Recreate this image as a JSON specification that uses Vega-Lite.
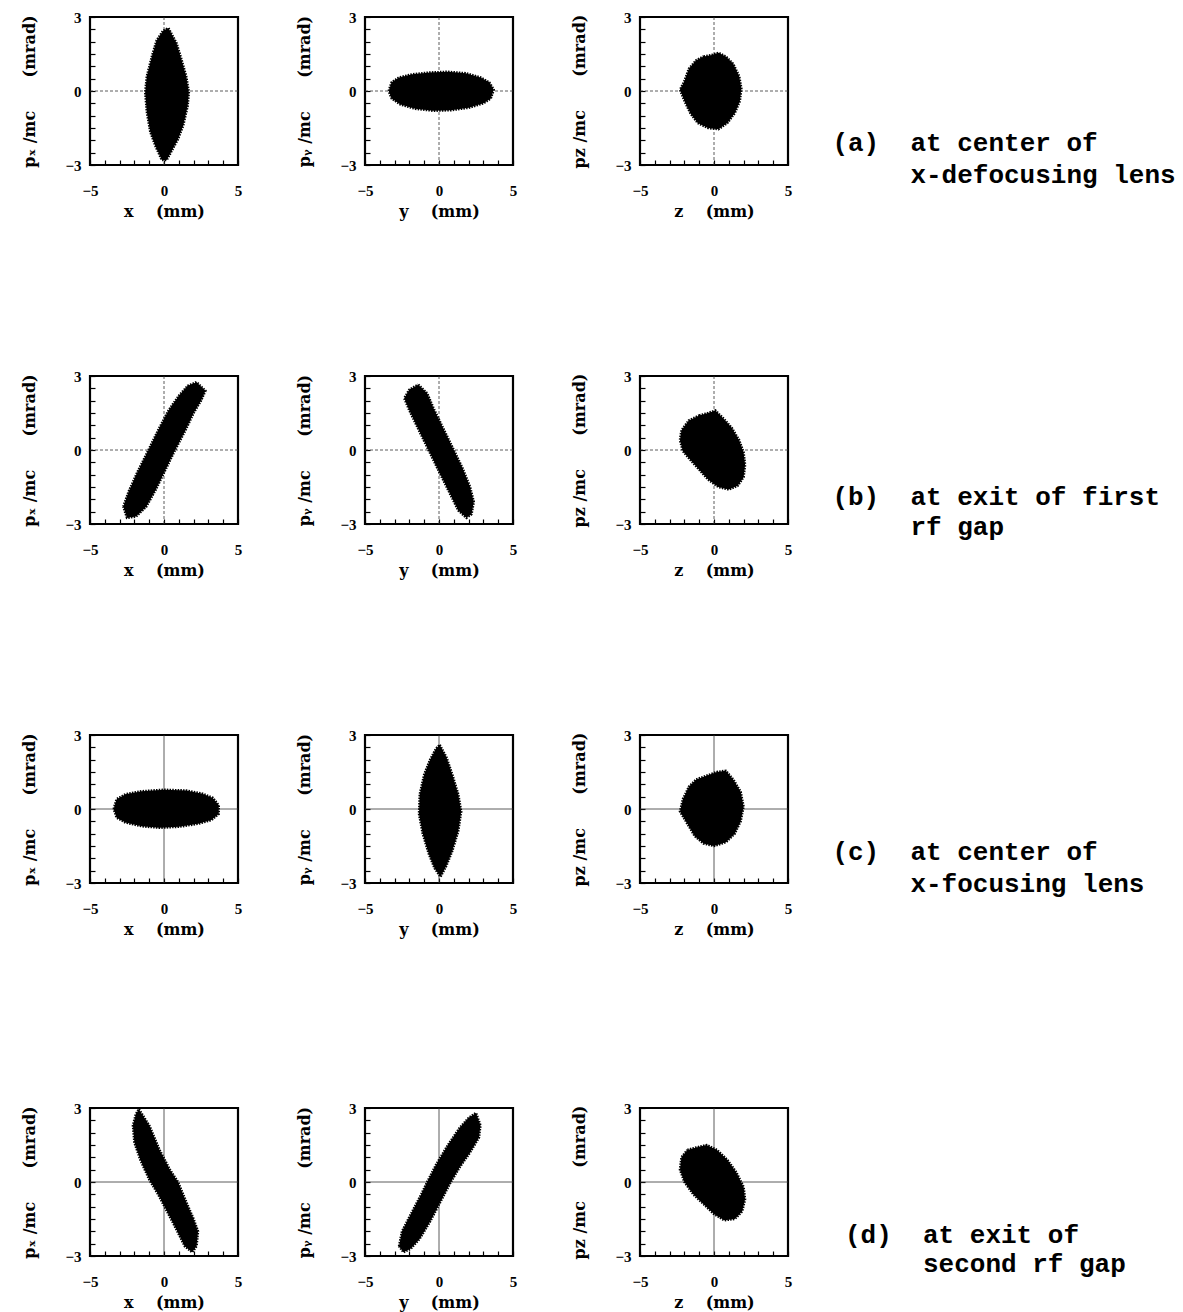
{
  "$schema": "https://vega.github.io/schema/vega-lite/v6.json",
  "background": "white",
  "padding": {"left": 20, "top": 8, "right": 5, "bottom": 0},
  "config": {
    "view": {"stroke": "black", "strokeWidth": 2.2},
    "axis": {
      "domain": false, "grid": false, "ticks": true,
      "tickSize": -5, "tickColor": "black", "tickWidth": 1.2,
      "labelFont": "Liberation Serif", "labelFontSize": 15, "labelFontWeight": "bold", "labelColor": "black",
      "titleFont": "DejaVu Serif", "titleFontSize": 16, "titleFontWeight": "bold", "titleColor": "black",
      "labelOverlap": false, "labelFlush": false, "labelBound": false
    },
    "axisX": {"labelPadding": 23, "titlePadding": 5},
    "axisY": {"labelPadding": 14, "titlePadding": 27}
  },
  "datasets": {
    "blobs": [
      {"p":"a1","i":0,"u":0.3,"v":2.55},{"p":"a1","i":1,"u":0.84,"v":1.95},{"p":"a1","i":2,"u":1.18,"v":1.28},{"p":"a1","i":3,"u":1.5,"v":0.6},{"p":"a1","i":4,"u":1.68,"v":-0.05},{"p":"a1","i":5,"u":1.6,"v":-0.6},{"p":"a1","i":6,"u":1.3,"v":-1.4},{"p":"a1","i":7,"u":0.95,"v":-1.95},{"p":"a1","i":8,"u":0.5,"v":-2.45},{"p":"a1","i":9,"u":0.18,"v":-2.8},{"p":"a1","i":10,"u":-0.15,"v":-2.8},{"p":"a1","i":11,"u":-0.6,"v":-2.2},{"p":"a1","i":12,"u":-0.93,"v":-1.65},{"p":"a1","i":13,"u":-1.16,"v":-0.85},{"p":"a1","i":14,"u":-1.27,"v":-0.05},{"p":"a1","i":15,"u":-1.16,"v":0.6},{"p":"a1","i":16,"u":-0.82,"v":1.4},{"p":"a1","i":17,"u":-0.5,"v":2.05},{"p":"a1","i":18,"u":-0.05,"v":2.45},{"p":"a1","i":19,"u":0.3,"v":2.55},
      {"p":"a2","i":0,"u":-3.4,"v":0},{"p":"a2","i":1,"u":-3.2,"v":0.35},{"p":"a2","i":2,"u":-2.7,"v":0.55},{"p":"a2","i":3,"u":-1.8,"v":0.68},{"p":"a2","i":4,"u":-0.6,"v":0.75},{"p":"a2","i":5,"u":0.6,"v":0.78},{"p":"a2","i":6,"u":1.8,"v":0.72},{"p":"a2","i":7,"u":2.8,"v":0.55},{"p":"a2","i":8,"u":3.4,"v":0.35},{"p":"a2","i":9,"u":3.7,"v":0.05},{"p":"a2","i":10,"u":3.5,"v":-0.3},{"p":"a2","i":11,"u":3.0,"v":-0.5},{"p":"a2","i":12,"u":2.0,"v":-0.68},{"p":"a2","i":13,"u":0.8,"v":-0.78},{"p":"a2","i":14,"u":-0.4,"v":-0.8},{"p":"a2","i":15,"u":-1.6,"v":-0.72},{"p":"a2","i":16,"u":-2.6,"v":-0.55},{"p":"a2","i":17,"u":-3.2,"v":-0.3},{"p":"a2","i":18,"u":-3.4,"v":0},
      {"p":"a3","i":0,"u":-0.7,"v":1.4},{"p":"a3","i":1,"u":-0.2,"v":1.45},{"p":"a3","i":2,"u":0.3,"v":1.55},{"p":"a3","i":3,"u":0.8,"v":1.4},{"p":"a3","i":4,"u":1.3,"v":1.1},{"p":"a3","i":5,"u":1.7,"v":0.6},{"p":"a3","i":6,"u":1.85,"v":0.1},{"p":"a3","i":7,"u":1.75,"v":-0.4},{"p":"a3","i":8,"u":1.4,"v":-0.9},{"p":"a3","i":9,"u":0.9,"v":-1.3},{"p":"a3","i":10,"u":0.3,"v":-1.55},{"p":"a3","i":11,"u":-0.4,"v":-1.5},{"p":"a3","i":12,"u":-1.1,"v":-1.3},{"p":"a3","i":13,"u":-1.6,"v":-0.9},{"p":"a3","i":14,"u":-2.0,"v":-0.4},{"p":"a3","i":15,"u":-2.3,"v":0.05},{"p":"a3","i":16,"u":-2.0,"v":0.4},{"p":"a3","i":17,"u":-1.7,"v":0.9},{"p":"a3","i":18,"u":-1.2,"v":1.25},{"p":"a3","i":19,"u":-0.7,"v":1.4},
      {"p":"b1","i":0,"u":-2.75,"v":-2.3},{"p":"b1","i":1,"u":-2.4,"v":-1.7},{"p":"b1","i":2,"u":-1.8,"v":-0.9},{"p":"b1","i":3,"u":-1.05,"v":0},{"p":"b1","i":4,"u":-0.4,"v":0.8},{"p":"b1","i":5,"u":0.3,"v":1.6},{"p":"b1","i":6,"u":1.0,"v":2.2},{"p":"b1","i":7,"u":1.6,"v":2.6},{"p":"b1","i":8,"u":2.2,"v":2.75},{"p":"b1","i":9,"u":2.8,"v":2.4},{"p":"b1","i":10,"u":2.5,"v":2.0},{"p":"b1","i":11,"u":2.0,"v":1.5},{"p":"b1","i":12,"u":1.45,"v":0.8},{"p":"b1","i":13,"u":0.75,"v":0},{"p":"b1","i":14,"u":0.1,"v":-0.8},{"p":"b1","i":15,"u":-0.55,"v":-1.6},{"p":"b1","i":16,"u":-1.2,"v":-2.3},{"p":"b1","i":17,"u":-1.9,"v":-2.7},{"p":"b1","i":18,"u":-2.5,"v":-2.75},{"p":"b1","i":19,"u":-2.75,"v":-2.3},
      {"p":"b2","i":0,"u":-1.4,"v":2.65},{"p":"b2","i":1,"u":-0.8,"v":2.3},{"p":"b2","i":2,"u":-0.3,"v":1.6},{"p":"b2","i":3,"u":0.35,"v":0.8},{"p":"b2","i":4,"u":1.0,"v":0},{"p":"b2","i":5,"u":1.6,"v":-0.75},{"p":"b2","i":6,"u":2.1,"v":-1.5},{"p":"b2","i":7,"u":2.35,"v":-2.1},{"p":"b2","i":8,"u":2.2,"v":-2.6},{"p":"b2","i":9,"u":1.85,"v":-2.75},{"p":"b2","i":10,"u":1.3,"v":-2.45},{"p":"b2","i":11,"u":0.6,"v":-1.6},{"p":"b2","i":12,"u":-0.1,"v":-0.75},{"p":"b2","i":13,"u":-0.75,"v":0.05},{"p":"b2","i":14,"u":-1.4,"v":0.85},{"p":"b2","i":15,"u":-2.0,"v":1.6},{"p":"b2","i":16,"u":-2.35,"v":2.1},{"p":"b2","i":17,"u":-2.0,"v":2.45},{"p":"b2","i":18,"u":-1.4,"v":2.65},
      {"p":"b3","i":0,"u":-1.0,"v":1.4},{"p":"b3","i":1,"u":-0.4,"v":1.5},{"p":"b3","i":2,"u":0.1,"v":1.6},{"p":"b3","i":3,"u":0.6,"v":1.3},{"p":"b3","i":4,"u":1.2,"v":0.9},{"p":"b3","i":5,"u":1.7,"v":0.4},{"p":"b3","i":6,"u":2.0,"v":-0.1},{"p":"b3","i":7,"u":2.1,"v":-0.6},{"p":"b3","i":8,"u":2.0,"v":-1.1},{"p":"b3","i":9,"u":1.6,"v":-1.45},{"p":"b3","i":10,"u":1.0,"v":-1.6},{"p":"b3","i":11,"u":0.3,"v":-1.5},{"p":"b3","i":12,"u":-0.4,"v":-1.2},{"p":"b3","i":13,"u":-1.0,"v":-0.8},{"p":"b3","i":14,"u":-1.6,"v":-0.4},{"p":"b3","i":15,"u":-2.1,"v":-0.05},{"p":"b3","i":16,"u":-2.3,"v":0.4},{"p":"b3","i":17,"u":-2.2,"v":0.8},{"p":"b3","i":18,"u":-1.7,"v":1.2},{"p":"b3","i":19,"u":-1.0,"v":1.4},
      {"p":"c1","i":0,"u":-3.4,"v":0},{"p":"c1","i":1,"u":-3.2,"v":0.4},{"p":"c1","i":2,"u":-2.6,"v":0.6},{"p":"c1","i":3,"u":-1.5,"v":0.72},{"p":"c1","i":4,"u":0,"v":0.78},{"p":"c1","i":5,"u":1.5,"v":0.75},{"p":"c1","i":6,"u":2.6,"v":0.62},{"p":"c1","i":7,"u":3.3,"v":0.45},{"p":"c1","i":8,"u":3.7,"v":0.15},{"p":"c1","i":9,"u":3.7,"v":-0.2},{"p":"c1","i":10,"u":3.2,"v":-0.45},{"p":"c1","i":11,"u":2.3,"v":-0.6},{"p":"c1","i":12,"u":1.0,"v":-0.72},{"p":"c1","i":13,"u":-0.3,"v":-0.76},{"p":"c1","i":14,"u":-1.5,"v":-0.7},{"p":"c1","i":15,"u":-2.6,"v":-0.55},{"p":"c1","i":16,"u":-3.2,"v":-0.35},{"p":"c1","i":17,"u":-3.4,"v":0},
      {"p":"c2","i":0,"u":0.05,"v":2.6},{"p":"c2","i":1,"u":0.5,"v":2.1},{"p":"c2","i":2,"u":0.9,"v":1.4},{"p":"c2","i":3,"u":1.3,"v":0.6},{"p":"c2","i":4,"u":1.5,"v":-0.1},{"p":"c2","i":5,"u":1.3,"v":-0.9},{"p":"c2","i":6,"u":0.9,"v":-1.7},{"p":"c2","i":7,"u":0.5,"v":-2.3},{"p":"c2","i":8,"u":0.1,"v":-2.75},{"p":"c2","i":9,"u":-0.3,"v":-2.4},{"p":"c2","i":10,"u":-0.7,"v":-1.8},{"p":"c2","i":11,"u":-1.1,"v":-1.0},{"p":"c2","i":12,"u":-1.35,"v":-0.2},{"p":"c2","i":13,"u":-1.3,"v":0.6},{"p":"c2","i":14,"u":-1.0,"v":1.4},{"p":"c2","i":15,"u":-0.6,"v":2.0},{"p":"c2","i":16,"u":-0.2,"v":2.45},{"p":"c2","i":17,"u":0.05,"v":2.6},
      {"p":"c3","i":0,"u":-1.2,"v":1.2},{"p":"c3","i":1,"u":-0.5,"v":1.35},{"p":"c3","i":2,"u":0.2,"v":1.5},{"p":"c3","i":3,"u":0.8,"v":1.55},{"p":"c3","i":4,"u":1.3,"v":1.2},{"p":"c3","i":5,"u":1.8,"v":0.7},{"p":"c3","i":6,"u":2.0,"v":0.1},{"p":"c3","i":7,"u":1.8,"v":-0.5},{"p":"c3","i":8,"u":1.4,"v":-1.0},{"p":"c3","i":9,"u":0.8,"v":-1.35},{"p":"c3","i":10,"u":0,"v":-1.5},{"p":"c3","i":11,"u":-0.7,"v":-1.4},{"p":"c3","i":12,"u":-1.3,"v":-1.1},{"p":"c3","i":13,"u":-1.8,"v":-0.6},{"p":"c3","i":14,"u":-2.3,"v":-0.1},{"p":"c3","i":15,"u":-2.1,"v":0.4},{"p":"c3","i":16,"u":-1.7,"v":0.9},{"p":"c3","i":17,"u":-1.2,"v":1.2},
      {"p":"d1","i":0,"u":-1.7,"v":2.95},{"p":"d1","i":1,"u":-1.0,"v":2.3},{"p":"d1","i":2,"u":-0.3,"v":1.3},{"p":"d1","i":3,"u":0.4,"v":0.5},{"p":"d1","i":4,"u":0.95,"v":0},{"p":"d1","i":5,"u":1.5,"v":-0.8},{"p":"d1","i":6,"u":2.0,"v":-1.5},{"p":"d1","i":7,"u":2.3,"v":-2.0},{"p":"d1","i":8,"u":2.2,"v":-2.6},{"p":"d1","i":9,"u":1.9,"v":-2.85},{"p":"d1","i":10,"u":1.4,"v":-2.6},{"p":"d1","i":11,"u":0.9,"v":-2.0},{"p":"d1","i":12,"u":0.3,"v":-1.3},{"p":"d1","i":13,"u":-0.4,"v":-0.5},{"p":"d1","i":14,"u":-1.0,"v":0.1},{"p":"d1","i":15,"u":-1.6,"v":0.9},{"p":"d1","i":16,"u":-2.0,"v":1.6},{"p":"d1","i":17,"u":-2.1,"v":2.3},{"p":"d1","i":18,"u":-1.9,"v":2.75},{"p":"d1","i":19,"u":-1.7,"v":2.95},
      {"p":"d2","i":0,"u":-2.7,"v":-2.6},{"p":"d2","i":1,"u":-2.5,"v":-2.0},{"p":"d2","i":2,"u":-1.9,"v":-1.3},{"p":"d2","i":3,"u":-1.2,"v":-0.5},{"p":"d2","i":4,"u":-0.8,"v":0},{"p":"d2","i":5,"u":-0.2,"v":0.7},{"p":"d2","i":6,"u":0.6,"v":1.5},{"p":"d2","i":7,"u":1.4,"v":2.2},{"p":"d2","i":8,"u":2.0,"v":2.6},{"p":"d2","i":9,"u":2.5,"v":2.8},{"p":"d2","i":10,"u":2.8,"v":2.3},{"p":"d2","i":11,"u":2.7,"v":1.8},{"p":"d2","i":12,"u":2.1,"v":1.2},{"p":"d2","i":13,"u":1.4,"v":0.6},{"p":"d2","i":14,"u":0.8,"v":0},{"p":"d2","i":15,"u":0.1,"v":-0.8},{"p":"d2","i":16,"u":-0.6,"v":-1.6},{"p":"d2","i":17,"u":-1.3,"v":-2.3},{"p":"d2","i":18,"u":-1.9,"v":-2.7},{"p":"d2","i":19,"u":-2.4,"v":-2.85},{"p":"d2","i":20,"u":-2.7,"v":-2.6},
      {"p":"d3","i":0,"u":-1.8,"v":1.3},{"p":"d3","i":1,"u":-1.2,"v":1.4},{"p":"d3","i":2,"u":-0.5,"v":1.5},{"p":"d3","i":3,"u":0.2,"v":1.3},{"p":"d3","i":4,"u":0.9,"v":0.9},{"p":"d3","i":5,"u":1.5,"v":0.4},{"p":"d3","i":6,"u":2.0,"v":-0.2},{"p":"d3","i":7,"u":2.1,"v":-0.7},{"p":"d3","i":8,"u":1.9,"v":-1.2},{"p":"d3","i":9,"u":1.4,"v":-1.5},{"p":"d3","i":10,"u":0.7,"v":-1.55},{"p":"d3","i":11,"u":0,"v":-1.3},{"p":"d3","i":12,"u":-0.7,"v":-0.9},{"p":"d3","i":13,"u":-1.4,"v":-0.5},{"p":"d3","i":14,"u":-2.0,"v":0},{"p":"d3","i":15,"u":-2.3,"v":0.5},{"p":"d3","i":16,"u":-2.2,"v":1.0},{"p":"d3","i":17,"u":-1.8,"v":1.3}
    ]
  },
  "spacing": 160,
  "vconcat": [
    {
      "spacing": 146,
      "vconcat": [
        {
          "spacing": 52,
          "hconcat": [
            {"width": 148, "height": 148, "layer": [
              {"data": {"values": [{}]}, "mark": {"type": "rule", "color": "#333", "strokeWidth": 0.8, "strokeDash": [3, 2]}, "encoding": {"x": {"datum": 0, "type": "quantitative", "axis": {"title": "x\u00a0\u00a0\u00a0\u00a0(mm)", "values": [-5,-4,-3,-2,-1,0,1,2,3,4,5], "labelExpr": "datum.value % 5 === 0 ? datum.label : ''"}}}},
              {"data": {"values": [{}]}, "mark": {"type": "rule", "color": "#333", "strokeWidth": 0.8, "strokeDash": [3, 2]}, "encoding": {"y": {"datum": 0, "type": "quantitative", "axis": {"title": "pₓ /mc\u00a0\u00a0\u00a0\u00a0\u00a0\u00a0(mrad)", "values": [-3,-2.5,-2,-1.5,-1,-0.5,0,0.5,1,1.5,2,2.5,3], "labelExpr": "datum.value % 3 === 0 ? format(datum.value, 'd') : ''"}}}},
              {"data": {"name": "blobs"}, "transform": [{"filter": "datum.p === 'a1'"}],
               "mark": {"type": "line", "fill": "black", "stroke": "black", "strokeWidth": 2.5, "strokeDash": [1.5, 1.2]},
               "encoding": {
                 "x": {"field": "u", "type": "quantitative", "scale": {"domain": [-5, 5], "nice": false, "zero": false}, "axis": {"title": "x\u00a0\u00a0\u00a0\u00a0(mm)", "values": [-5,-4,-3,-2,-1,0,1,2,3,4,5], "labelExpr": "datum.value % 5 === 0 ? datum.label : ''"}},
                 "y": {"field": "v", "type": "quantitative", "scale": {"domain": [-3, 3], "nice": false, "zero": false}, "axis": {"title": "pₓ /mc\u00a0\u00a0\u00a0\u00a0\u00a0\u00a0(mrad)", "values": [-3,-2.5,-2,-1.5,-1,-0.5,0,0.5,1,1.5,2,2.5,3], "labelExpr": "datum.value % 3 === 0 ? format(datum.value, 'd') : ''"}},
                 "order": {"field": "i"}}}
            ]},
            {"width": 148, "height": 148, "layer": [
              {"data": {"values": [{}]}, "mark": {"type": "rule", "color": "#333", "strokeWidth": 0.8, "strokeDash": [3, 2]}, "encoding": {"x": {"datum": 0, "type": "quantitative", "axis": {"title": "y\u00a0\u00a0\u00a0\u00a0(mm)", "values": [-5,-4,-3,-2,-1,0,1,2,3,4,5], "labelExpr": "datum.value % 5 === 0 ? datum.label : ''"}}}},
              {"data": {"values": [{}]}, "mark": {"type": "rule", "color": "#333", "strokeWidth": 0.8, "strokeDash": [3, 2]}, "encoding": {"y": {"datum": 0, "type": "quantitative", "axis": {"title": "pᵧ /mc\u00a0\u00a0\u00a0\u00a0\u00a0\u00a0(mrad)", "values": [-3,-2.5,-2,-1.5,-1,-0.5,0,0.5,1,1.5,2,2.5,3], "labelExpr": "datum.value % 3 === 0 ? format(datum.value, 'd') : ''"}}}},
              {"data": {"name": "blobs"}, "transform": [{"filter": "datum.p === 'a2'"}],
               "mark": {"type": "line", "fill": "black", "stroke": "black", "strokeWidth": 2.5, "strokeDash": [1.5, 1.2]},
               "encoding": {
                 "x": {"field": "u", "type": "quantitative", "scale": {"domain": [-5, 5], "nice": false, "zero": false}, "axis": {"title": "y\u00a0\u00a0\u00a0\u00a0(mm)", "values": [-5,-4,-3,-2,-1,0,1,2,3,4,5], "labelExpr": "datum.value % 5 === 0 ? datum.label : ''"}},
                 "y": {"field": "v", "type": "quantitative", "scale": {"domain": [-3, 3], "nice": false, "zero": false}, "axis": {"title": "pᵧ /mc\u00a0\u00a0\u00a0\u00a0\u00a0\u00a0(mrad)", "values": [-3,-2.5,-2,-1.5,-1,-0.5,0,0.5,1,1.5,2,2.5,3], "labelExpr": "datum.value % 3 === 0 ? format(datum.value, 'd') : ''"}},
                 "order": {"field": "i"}}}
            ]},
            {"width": 148, "height": 148, "layer": [
              {"data": {"values": [{}]}, "mark": {"type": "rule", "color": "#333", "strokeWidth": 0.8, "strokeDash": [3, 2]}, "encoding": {"x": {"datum": 0, "type": "quantitative", "axis": {"title": "z\u00a0\u00a0\u00a0\u00a0(mm)", "values": [-5,-4,-3,-2,-1,0,1,2,3,4,5], "labelExpr": "datum.value % 5 === 0 ? datum.label : ''"}}}},
              {"data": {"values": [{}]}, "mark": {"type": "rule", "color": "#333", "strokeWidth": 0.8, "strokeDash": [3, 2]}, "encoding": {"y": {"datum": 0, "type": "quantitative", "axis": {"title": "pz /mc\u00a0\u00a0\u00a0\u00a0\u00a0\u00a0(mrad)", "values": [-3,-2.5,-2,-1.5,-1,-0.5,0,0.5,1,1.5,2,2.5,3], "labelExpr": "datum.value % 3 === 0 ? format(datum.value, 'd') : ''"}}}},
              {"data": {"name": "blobs"}, "transform": [{"filter": "datum.p === 'a3'"}],
               "mark": {"type": "line", "fill": "black", "stroke": "black", "strokeWidth": 2.5, "strokeDash": [1.5, 1.2]},
               "encoding": {
                 "x": {"field": "u", "type": "quantitative", "scale": {"domain": [-5, 5], "nice": false, "zero": false}, "axis": {"title": "z\u00a0\u00a0\u00a0\u00a0(mm)", "values": [-5,-4,-3,-2,-1,0,1,2,3,4,5], "labelExpr": "datum.value % 5 === 0 ? datum.label : ''"}},
                 "y": {"field": "v", "type": "quantitative", "scale": {"domain": [-3, 3], "nice": false, "zero": false}, "axis": {"title": "pz /mc\u00a0\u00a0\u00a0\u00a0\u00a0\u00a0(mrad)", "values": [-3,-2.5,-2,-1.5,-1,-0.5,0,0.5,1,1.5,2,2.5,3], "labelExpr": "datum.value % 3 === 0 ? format(datum.value, 'd') : ''"}},
                 "order": {"field": "i"}}},
              {"data": {"values": [{"t": "(a)\u00a0\u00a0at center of"}]},
               "mark": {"type": "text", "font": "Liberation Mono", "fontWeight": "bold", "fontSize": 26, "align": "left", "baseline": "middle", "color": "black"},
               "encoding": {"x": {"datum": 8.0, "type": "quantitative", "axis": {"title": "z\u00a0\u00a0\u00a0\u00a0(mm)", "values": [-5,-4,-3,-2,-1,0,1,2,3,4,5], "labelExpr": "datum.value % 5 === 0 ? datum.label : ''"}}, "y": {"datum": -2.11, "type": "quantitative", "axis": {"title": "pz /mc\u00a0\u00a0\u00a0\u00a0\u00a0\u00a0(mrad)", "values": [-3,-2.5,-2,-1.5,-1,-0.5,0,0.5,1,1.5,2,2.5,3], "labelExpr": "datum.value % 3 === 0 ? format(datum.value, 'd') : ''"}}, "text": {"field": "t"}}},
              {"data": {"values": [{"t": "x-defocusing lens"}]},
               "mark": {"type": "text", "font": "Liberation Mono", "fontWeight": "bold", "fontSize": 26, "align": "left", "baseline": "middle", "color": "black"},
               "encoding": {"x": {"datum": 13.27, "type": "quantitative", "axis": {"title": "z\u00a0\u00a0\u00a0\u00a0(mm)", "values": [-5,-4,-3,-2,-1,0,1,2,3,4,5], "labelExpr": "datum.value % 5 === 0 ? datum.label : ''"}}, "y": {"datum": -3.4, "type": "quantitative", "axis": {"title": "pz /mc\u00a0\u00a0\u00a0\u00a0\u00a0\u00a0(mrad)", "values": [-3,-2.5,-2,-1.5,-1,-0.5,0,0.5,1,1.5,2,2.5,3], "labelExpr": "datum.value % 3 === 0 ? format(datum.value, 'd') : ''"}}, "text": {"field": "t"}}}
            ]}
          ]
        },
        {
          "spacing": 52,
          "hconcat": [
            {"width": 148, "height": 148, "layer": [
              {"data": {"values": [{}]}, "mark": {"type": "rule", "color": "#333", "strokeWidth": 0.8, "strokeDash": [3, 2]}, "encoding": {"x": {"datum": 0, "type": "quantitative", "axis": {"title": "x\u00a0\u00a0\u00a0\u00a0(mm)", "values": [-5,-4,-3,-2,-1,0,1,2,3,4,5], "labelExpr": "datum.value % 5 === 0 ? datum.label : ''"}}}},
              {"data": {"values": [{}]}, "mark": {"type": "rule", "color": "#333", "strokeWidth": 0.8, "strokeDash": [3, 2]}, "encoding": {"y": {"datum": 0, "type": "quantitative", "axis": {"title": "pₓ /mc\u00a0\u00a0\u00a0\u00a0\u00a0\u00a0(mrad)", "values": [-3,-2.5,-2,-1.5,-1,-0.5,0,0.5,1,1.5,2,2.5,3], "labelExpr": "datum.value % 3 === 0 ? format(datum.value, 'd') : ''"}}}},
              {"data": {"name": "blobs"}, "transform": [{"filter": "datum.p === 'b1'"}],
               "mark": {"type": "line", "fill": "black", "stroke": "black", "strokeWidth": 2.5, "strokeDash": [1.5, 1.2]},
               "encoding": {
                 "x": {"field": "u", "type": "quantitative", "scale": {"domain": [-5, 5], "nice": false, "zero": false}, "axis": {"title": "x\u00a0\u00a0\u00a0\u00a0(mm)", "values": [-5,-4,-3,-2,-1,0,1,2,3,4,5], "labelExpr": "datum.value % 5 === 0 ? datum.label : ''"}},
                 "y": {"field": "v", "type": "quantitative", "scale": {"domain": [-3, 3], "nice": false, "zero": false}, "axis": {"title": "pₓ /mc\u00a0\u00a0\u00a0\u00a0\u00a0\u00a0(mrad)", "values": [-3,-2.5,-2,-1.5,-1,-0.5,0,0.5,1,1.5,2,2.5,3], "labelExpr": "datum.value % 3 === 0 ? format(datum.value, 'd') : ''"}},
                 "order": {"field": "i"}}}
            ]},
            {"width": 148, "height": 148, "layer": [
              {"data": {"values": [{}]}, "mark": {"type": "rule", "color": "#333", "strokeWidth": 0.8, "strokeDash": [3, 2]}, "encoding": {"x": {"datum": 0, "type": "quantitative", "axis": {"title": "y\u00a0\u00a0\u00a0\u00a0(mm)", "values": [-5,-4,-3,-2,-1,0,1,2,3,4,5], "labelExpr": "datum.value % 5 === 0 ? datum.label : ''"}}}},
              {"data": {"values": [{}]}, "mark": {"type": "rule", "color": "#333", "strokeWidth": 0.8, "strokeDash": [3, 2]}, "encoding": {"y": {"datum": 0, "type": "quantitative", "axis": {"title": "pᵧ /mc\u00a0\u00a0\u00a0\u00a0\u00a0\u00a0(mrad)", "values": [-3,-2.5,-2,-1.5,-1,-0.5,0,0.5,1,1.5,2,2.5,3], "labelExpr": "datum.value % 3 === 0 ? format(datum.value, 'd') : ''"}}}},
              {"data": {"name": "blobs"}, "transform": [{"filter": "datum.p === 'b2'"}],
               "mark": {"type": "line", "fill": "black", "stroke": "black", "strokeWidth": 2.5, "strokeDash": [1.5, 1.2]},
               "encoding": {
                 "x": {"field": "u", "type": "quantitative", "scale": {"domain": [-5, 5], "nice": false, "zero": false}, "axis": {"title": "y\u00a0\u00a0\u00a0\u00a0(mm)", "values": [-5,-4,-3,-2,-1,0,1,2,3,4,5], "labelExpr": "datum.value % 5 === 0 ? datum.label : ''"}},
                 "y": {"field": "v", "type": "quantitative", "scale": {"domain": [-3, 3], "nice": false, "zero": false}, "axis": {"title": "pᵧ /mc\u00a0\u00a0\u00a0\u00a0\u00a0\u00a0(mrad)", "values": [-3,-2.5,-2,-1.5,-1,-0.5,0,0.5,1,1.5,2,2.5,3], "labelExpr": "datum.value % 3 === 0 ? format(datum.value, 'd') : ''"}},
                 "order": {"field": "i"}}}
            ]},
            {"width": 148, "height": 148, "layer": [
              {"data": {"values": [{}]}, "mark": {"type": "rule", "color": "#333", "strokeWidth": 0.8, "strokeDash": [3, 2]}, "encoding": {"x": {"datum": 0, "type": "quantitative", "axis": {"title": "z\u00a0\u00a0\u00a0\u00a0(mm)", "values": [-5,-4,-3,-2,-1,0,1,2,3,4,5], "labelExpr": "datum.value % 5 === 0 ? datum.label : ''"}}}},
              {"data": {"values": [{}]}, "mark": {"type": "rule", "color": "#333", "strokeWidth": 0.8, "strokeDash": [3, 2]}, "encoding": {"y": {"datum": 0, "type": "quantitative", "axis": {"title": "pz /mc\u00a0\u00a0\u00a0\u00a0\u00a0\u00a0(mrad)", "values": [-3,-2.5,-2,-1.5,-1,-0.5,0,0.5,1,1.5,2,2.5,3], "labelExpr": "datum.value % 3 === 0 ? format(datum.value, 'd') : ''"}}}},
              {"data": {"name": "blobs"}, "transform": [{"filter": "datum.p === 'b3'"}],
               "mark": {"type": "line", "fill": "black", "stroke": "black", "strokeWidth": 2.5, "strokeDash": [1.5, 1.2]},
               "encoding": {
                 "x": {"field": "u", "type": "quantitative", "scale": {"domain": [-5, 5], "nice": false, "zero": false}, "axis": {"title": "z\u00a0\u00a0\u00a0\u00a0(mm)", "values": [-5,-4,-3,-2,-1,0,1,2,3,4,5], "labelExpr": "datum.value % 5 === 0 ? datum.label : ''"}},
                 "y": {"field": "v", "type": "quantitative", "scale": {"domain": [-3, 3], "nice": false, "zero": false}, "axis": {"title": "pz /mc\u00a0\u00a0\u00a0\u00a0\u00a0\u00a0(mrad)", "values": [-3,-2.5,-2,-1.5,-1,-0.5,0,0.5,1,1.5,2,2.5,3], "labelExpr": "datum.value % 3 === 0 ? format(datum.value, 'd') : ''"}},
                 "order": {"field": "i"}}},
              {"data": {"values": [{"t": "(b)\u00a0\u00a0at exit of first"}]},
               "mark": {"type": "text", "font": "Liberation Mono", "fontWeight": "bold", "fontSize": 26, "align": "left", "baseline": "middle", "color": "black"},
               "encoding": {"x": {"datum": 8.0, "type": "quantitative", "axis": {"title": "z\u00a0\u00a0\u00a0\u00a0(mm)", "values": [-5,-4,-3,-2,-1,0,1,2,3,4,5], "labelExpr": "datum.value % 5 === 0 ? datum.label : ''"}}, "y": {"datum": -1.9, "type": "quantitative", "axis": {"title": "pz /mc\u00a0\u00a0\u00a0\u00a0\u00a0\u00a0(mrad)", "values": [-3,-2.5,-2,-1.5,-1,-0.5,0,0.5,1,1.5,2,2.5,3], "labelExpr": "datum.value % 3 === 0 ? format(datum.value, 'd') : ''"}}, "text": {"field": "t"}}},
              {"data": {"values": [{"t": "rf gap"}]},
               "mark": {"type": "text", "font": "Liberation Mono", "fontWeight": "bold", "fontSize": 26, "align": "left", "baseline": "middle", "color": "black"},
               "encoding": {"x": {"datum": 13.27, "type": "quantitative", "axis": {"title": "z\u00a0\u00a0\u00a0\u00a0(mm)", "values": [-5,-4,-3,-2,-1,0,1,2,3,4,5], "labelExpr": "datum.value % 5 === 0 ? datum.label : ''"}}, "y": {"datum": -3.12, "type": "quantitative", "axis": {"title": "pz /mc\u00a0\u00a0\u00a0\u00a0\u00a0\u00a0(mrad)", "values": [-3,-2.5,-2,-1.5,-1,-0.5,0,0.5,1,1.5,2,2.5,3], "labelExpr": "datum.value % 3 === 0 ? format(datum.value, 'd') : ''"}}, "text": {"field": "t"}}}
            ]}
          ]
        },
        {
          "spacing": 52,
          "hconcat": [
            {"width": 148, "height": 148, "layer": [
              {"data": {"values": [{}]}, "mark": {"type": "rule", "color": "#333", "strokeWidth": 0.8}, "encoding": {"x": {"datum": 0, "type": "quantitative", "axis": {"title": "x\u00a0\u00a0\u00a0\u00a0(mm)", "values": [-5,-4,-3,-2,-1,0,1,2,3,4,5], "labelExpr": "datum.value % 5 === 0 ? datum.label : ''"}}}},
              {"data": {"values": [{}]}, "mark": {"type": "rule", "color": "#333", "strokeWidth": 0.8}, "encoding": {"y": {"datum": 0, "type": "quantitative", "axis": {"title": "pₓ /mc\u00a0\u00a0\u00a0\u00a0\u00a0\u00a0(mrad)", "values": [-3,-2.5,-2,-1.5,-1,-0.5,0,0.5,1,1.5,2,2.5,3], "labelExpr": "datum.value % 3 === 0 ? format(datum.value, 'd') : ''"}}}},
              {"data": {"name": "blobs"}, "transform": [{"filter": "datum.p === 'c1'"}],
               "mark": {"type": "line", "fill": "black", "stroke": "black", "strokeWidth": 2.5, "strokeDash": [1.5, 1.2]},
               "encoding": {
                 "x": {"field": "u", "type": "quantitative", "scale": {"domain": [-5, 5], "nice": false, "zero": false}, "axis": {"title": "x\u00a0\u00a0\u00a0\u00a0(mm)", "values": [-5,-4,-3,-2,-1,0,1,2,3,4,5], "labelExpr": "datum.value % 5 === 0 ? datum.label : ''"}},
                 "y": {"field": "v", "type": "quantitative", "scale": {"domain": [-3, 3], "nice": false, "zero": false}, "axis": {"title": "pₓ /mc\u00a0\u00a0\u00a0\u00a0\u00a0\u00a0(mrad)", "values": [-3,-2.5,-2,-1.5,-1,-0.5,0,0.5,1,1.5,2,2.5,3], "labelExpr": "datum.value % 3 === 0 ? format(datum.value, 'd') : ''"}},
                 "order": {"field": "i"}}}
            ]},
            {"width": 148, "height": 148, "layer": [
              {"data": {"values": [{}]}, "mark": {"type": "rule", "color": "#333", "strokeWidth": 0.8}, "encoding": {"x": {"datum": 0, "type": "quantitative", "axis": {"title": "y\u00a0\u00a0\u00a0\u00a0(mm)", "values": [-5,-4,-3,-2,-1,0,1,2,3,4,5], "labelExpr": "datum.value % 5 === 0 ? datum.label : ''"}}}},
              {"data": {"values": [{}]}, "mark": {"type": "rule", "color": "#333", "strokeWidth": 0.8}, "encoding": {"y": {"datum": 0, "type": "quantitative", "axis": {"title": "pᵧ /mc\u00a0\u00a0\u00a0\u00a0\u00a0\u00a0(mrad)", "values": [-3,-2.5,-2,-1.5,-1,-0.5,0,0.5,1,1.5,2,2.5,3], "labelExpr": "datum.value % 3 === 0 ? format(datum.value, 'd') : ''"}}}},
              {"data": {"name": "blobs"}, "transform": [{"filter": "datum.p === 'c2'"}],
               "mark": {"type": "line", "fill": "black", "stroke": "black", "strokeWidth": 2.5, "strokeDash": [1.5, 1.2]},
               "encoding": {
                 "x": {"field": "u", "type": "quantitative", "scale": {"domain": [-5, 5], "nice": false, "zero": false}, "axis": {"title": "y\u00a0\u00a0\u00a0\u00a0(mm)", "values": [-5,-4,-3,-2,-1,0,1,2,3,4,5], "labelExpr": "datum.value % 5 === 0 ? datum.label : ''"}},
                 "y": {"field": "v", "type": "quantitative", "scale": {"domain": [-3, 3], "nice": false, "zero": false}, "axis": {"title": "pᵧ /mc\u00a0\u00a0\u00a0\u00a0\u00a0\u00a0(mrad)", "values": [-3,-2.5,-2,-1.5,-1,-0.5,0,0.5,1,1.5,2,2.5,3], "labelExpr": "datum.value % 3 === 0 ? format(datum.value, 'd') : ''"}},
                 "order": {"field": "i"}}}
            ]},
            {"width": 148, "height": 148, "layer": [
              {"data": {"values": [{}]}, "mark": {"type": "rule", "color": "#333", "strokeWidth": 0.8}, "encoding": {"x": {"datum": 0, "type": "quantitative", "axis": {"title": "z\u00a0\u00a0\u00a0\u00a0(mm)", "values": [-5,-4,-3,-2,-1,0,1,2,3,4,5], "labelExpr": "datum.value % 5 === 0 ? datum.label : ''"}}}},
              {"data": {"values": [{}]}, "mark": {"type": "rule", "color": "#333", "strokeWidth": 0.8}, "encoding": {"y": {"datum": 0, "type": "quantitative", "axis": {"title": "pz /mc\u00a0\u00a0\u00a0\u00a0\u00a0\u00a0(mrad)", "values": [-3,-2.5,-2,-1.5,-1,-0.5,0,0.5,1,1.5,2,2.5,3], "labelExpr": "datum.value % 3 === 0 ? format(datum.value, 'd') : ''"}}}},
              {"data": {"name": "blobs"}, "transform": [{"filter": "datum.p === 'c3'"}],
               "mark": {"type": "line", "fill": "black", "stroke": "black", "strokeWidth": 2.5, "strokeDash": [1.5, 1.2]},
               "encoding": {
                 "x": {"field": "u", "type": "quantitative", "scale": {"domain": [-5, 5], "nice": false, "zero": false}, "axis": {"title": "z\u00a0\u00a0\u00a0\u00a0(mm)", "values": [-5,-4,-3,-2,-1,0,1,2,3,4,5], "labelExpr": "datum.value % 5 === 0 ? datum.label : ''"}},
                 "y": {"field": "v", "type": "quantitative", "scale": {"domain": [-3, 3], "nice": false, "zero": false}, "axis": {"title": "pz /mc\u00a0\u00a0\u00a0\u00a0\u00a0\u00a0(mrad)", "values": [-3,-2.5,-2,-1.5,-1,-0.5,0,0.5,1,1.5,2,2.5,3], "labelExpr": "datum.value % 3 === 0 ? format(datum.value, 'd') : ''"}},
                 "order": {"field": "i"}}},
              {"data": {"values": [{"t": "(c)\u00a0\u00a0at center of"}]},
               "mark": {"type": "text", "font": "Liberation Mono", "fontWeight": "bold", "fontSize": 26, "align": "left", "baseline": "middle", "color": "black"},
               "encoding": {"x": {"datum": 8.0, "type": "quantitative", "axis": {"title": "z\u00a0\u00a0\u00a0\u00a0(mm)", "values": [-5,-4,-3,-2,-1,0,1,2,3,4,5], "labelExpr": "datum.value % 5 === 0 ? datum.label : ''"}}, "y": {"datum": -1.74, "type": "quantitative", "axis": {"title": "pz /mc\u00a0\u00a0\u00a0\u00a0\u00a0\u00a0(mrad)", "values": [-3,-2.5,-2,-1.5,-1,-0.5,0,0.5,1,1.5,2,2.5,3], "labelExpr": "datum.value % 3 === 0 ? format(datum.value, 'd') : ''"}}, "text": {"field": "t"}}},
              {"data": {"values": [{"t": "x-focusing lens"}]},
               "mark": {"type": "text", "font": "Liberation Mono", "fontWeight": "bold", "fontSize": 26, "align": "left", "baseline": "middle", "color": "black"},
               "encoding": {"x": {"datum": 13.27, "type": "quantitative", "axis": {"title": "z\u00a0\u00a0\u00a0\u00a0(mm)", "values": [-5,-4,-3,-2,-1,0,1,2,3,4,5], "labelExpr": "datum.value % 5 === 0 ? datum.label : ''"}}, "y": {"datum": -3.04, "type": "quantitative", "axis": {"title": "pz /mc\u00a0\u00a0\u00a0\u00a0\u00a0\u00a0(mrad)", "values": [-3,-2.5,-2,-1.5,-1,-0.5,0,0.5,1,1.5,2,2.5,3], "labelExpr": "datum.value % 3 === 0 ? format(datum.value, 'd') : ''"}}, "text": {"field": "t"}}}
            ]}
          ]
        }
      ]
    },
    {
      "spacing": 52,
      "hconcat": [
        {"width": 148, "height": 148, "layer": [
          {"data": {"values": [{}]}, "mark": {"type": "rule", "color": "#333", "strokeWidth": 0.8}, "encoding": {"x": {"datum": 0, "type": "quantitative", "axis": {"title": "x\u00a0\u00a0\u00a0\u00a0(mm)", "values": [-5,-4,-3,-2,-1,0,1,2,3,4,5], "labelExpr": "datum.value % 5 === 0 ? datum.label : ''"}}}},
          {"data": {"values": [{}]}, "mark": {"type": "rule", "color": "#333", "strokeWidth": 0.8}, "encoding": {"y": {"datum": 0, "type": "quantitative", "axis": {"title": "pₓ /mc\u00a0\u00a0\u00a0\u00a0\u00a0\u00a0(mrad)", "values": [-3,-2.5,-2,-1.5,-1,-0.5,0,0.5,1,1.5,2,2.5,3], "labelExpr": "datum.value % 3 === 0 ? format(datum.value, 'd') : ''"}}}},
          {"data": {"name": "blobs"}, "transform": [{"filter": "datum.p === 'd1'"}],
           "mark": {"type": "line", "fill": "black", "stroke": "black", "strokeWidth": 2.5, "strokeDash": [1.5, 1.2]},
           "encoding": {
             "x": {"field": "u", "type": "quantitative", "scale": {"domain": [-5, 5], "nice": false, "zero": false}, "axis": {"title": "x\u00a0\u00a0\u00a0\u00a0(mm)", "values": [-5,-4,-3,-2,-1,0,1,2,3,4,5], "labelExpr": "datum.value % 5 === 0 ? datum.label : ''"}},
             "y": {"field": "v", "type": "quantitative", "scale": {"domain": [-3, 3], "nice": false, "zero": false}, "axis": {"title": "pₓ /mc\u00a0\u00a0\u00a0\u00a0\u00a0\u00a0(mrad)", "values": [-3,-2.5,-2,-1.5,-1,-0.5,0,0.5,1,1.5,2,2.5,3], "labelExpr": "datum.value % 3 === 0 ? format(datum.value, 'd') : ''"}},
             "order": {"field": "i"}}}
        ]},
        {"width": 148, "height": 148, "layer": [
          {"data": {"values": [{}]}, "mark": {"type": "rule", "color": "#333", "strokeWidth": 0.8}, "encoding": {"x": {"datum": 0, "type": "quantitative", "axis": {"title": "y\u00a0\u00a0\u00a0\u00a0(mm)", "values": [-5,-4,-3,-2,-1,0,1,2,3,4,5], "labelExpr": "datum.value % 5 === 0 ? datum.label : ''"}}}},
          {"data": {"values": [{}]}, "mark": {"type": "rule", "color": "#333", "strokeWidth": 0.8}, "encoding": {"y": {"datum": 0, "type": "quantitative", "axis": {"title": "pᵧ /mc\u00a0\u00a0\u00a0\u00a0\u00a0\u00a0(mrad)", "values": [-3,-2.5,-2,-1.5,-1,-0.5,0,0.5,1,1.5,2,2.5,3], "labelExpr": "datum.value % 3 === 0 ? format(datum.value, 'd') : ''"}}}},
          {"data": {"name": "blobs"}, "transform": [{"filter": "datum.p === 'd2'"}],
           "mark": {"type": "line", "fill": "black", "stroke": "black", "strokeWidth": 2.5, "strokeDash": [1.5, 1.2]},
           "encoding": {
             "x": {"field": "u", "type": "quantitative", "scale": {"domain": [-5, 5], "nice": false, "zero": false}, "axis": {"title": "y\u00a0\u00a0\u00a0\u00a0(mm)", "values": [-5,-4,-3,-2,-1,0,1,2,3,4,5], "labelExpr": "datum.value % 5 === 0 ? datum.label : ''"}},
             "y": {"field": "v", "type": "quantitative", "scale": {"domain": [-3, 3], "nice": false, "zero": false}, "axis": {"title": "pᵧ /mc\u00a0\u00a0\u00a0\u00a0\u00a0\u00a0(mrad)", "values": [-3,-2.5,-2,-1.5,-1,-0.5,0,0.5,1,1.5,2,2.5,3], "labelExpr": "datum.value % 3 === 0 ? format(datum.value, 'd') : ''"}},
             "order": {"field": "i"}}}
        ]},
        {"width": 148, "height": 148, "layer": [
          {"data": {"values": [{}]}, "mark": {"type": "rule", "color": "#333", "strokeWidth": 0.8}, "encoding": {"x": {"datum": 0, "type": "quantitative", "axis": {"title": "z\u00a0\u00a0\u00a0\u00a0(mm)", "values": [-5,-4,-3,-2,-1,0,1,2,3,4,5], "labelExpr": "datum.value % 5 === 0 ? datum.label : ''"}}}},
          {"data": {"values": [{}]}, "mark": {"type": "rule", "color": "#333", "strokeWidth": 0.8}, "encoding": {"y": {"datum": 0, "type": "quantitative", "axis": {"title": "pz /mc\u00a0\u00a0\u00a0\u00a0\u00a0\u00a0(mrad)", "values": [-3,-2.5,-2,-1.5,-1,-0.5,0,0.5,1,1.5,2,2.5,3], "labelExpr": "datum.value % 3 === 0 ? format(datum.value, 'd') : ''"}}}},
          {"data": {"name": "blobs"}, "transform": [{"filter": "datum.p === 'd3'"}],
           "mark": {"type": "line", "fill": "black", "stroke": "black", "strokeWidth": 2.5, "strokeDash": [1.5, 1.2]},
           "encoding": {
             "x": {"field": "u", "type": "quantitative", "scale": {"domain": [-5, 5], "nice": false, "zero": false}, "axis": {"title": "z\u00a0\u00a0\u00a0\u00a0(mm)", "values": [-5,-4,-3,-2,-1,0,1,2,3,4,5], "labelExpr": "datum.value % 5 === 0 ? datum.label : ''"}},
             "y": {"field": "v", "type": "quantitative", "scale": {"domain": [-3, 3], "nice": false, "zero": false}, "axis": {"title": "pz /mc\u00a0\u00a0\u00a0\u00a0\u00a0\u00a0(mrad)", "values": [-3,-2.5,-2,-1.5,-1,-0.5,0,0.5,1,1.5,2,2.5,3], "labelExpr": "datum.value % 3 === 0 ? format(datum.value, 'd') : ''"}},
             "order": {"field": "i"}}},
          {"data": {"values": [{"t": "(d)\u00a0\u00a0at exit of"}]},
           "mark": {"type": "text", "font": "Liberation Mono", "fontWeight": "bold", "fontSize": 26, "align": "left", "baseline": "middle", "color": "black"},
           "encoding": {"x": {"datum": 8.85, "type": "quantitative", "axis": {"title": "z\u00a0\u00a0\u00a0\u00a0(mm)", "values": [-5,-4,-3,-2,-1,0,1,2,3,4,5], "labelExpr": "datum.value % 5 === 0 ? datum.label : ''"}}, "y": {"datum": -2.15, "type": "quantitative", "axis": {"title": "pz /mc\u00a0\u00a0\u00a0\u00a0\u00a0\u00a0(mrad)", "values": [-3,-2.5,-2,-1.5,-1,-0.5,0,0.5,1,1.5,2,2.5,3], "labelExpr": "datum.value % 3 === 0 ? format(datum.value, 'd') : ''"}}, "text": {"field": "t"}}},
          {"data": {"values": [{"t": "second rf gap"}]},
           "mark": {"type": "text", "font": "Liberation Mono", "fontWeight": "bold", "fontSize": 26, "align": "left", "baseline": "middle", "color": "black"},
           "encoding": {"x": {"datum": 14.12, "type": "quantitative", "axis": {"title": "z\u00a0\u00a0\u00a0\u00a0(mm)", "values": [-5,-4,-3,-2,-1,0,1,2,3,4,5], "labelExpr": "datum.value % 5 === 0 ? datum.label : ''"}}, "y": {"datum": -3.32, "type": "quantitative", "axis": {"title": "pz /mc\u00a0\u00a0\u00a0\u00a0\u00a0\u00a0(mrad)", "values": [-3,-2.5,-2,-1.5,-1,-0.5,0,0.5,1,1.5,2,2.5,3], "labelExpr": "datum.value % 3 === 0 ? format(datum.value, 'd') : ''"}}, "text": {"field": "t"}}}
        ]}
      ]
    }
  ]
}
